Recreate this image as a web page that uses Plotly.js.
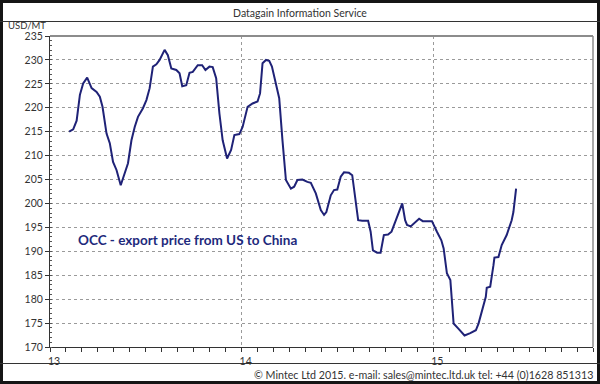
<!DOCTYPE html>
<html>
<head>
<meta charset="utf-8">
<script src="https://cdn.plot.ly/plotly-3.0.1.min.js"></script>
<style>
  html, body { margin: 0; padding: 0; background: #fff; }
  #wrap { position: relative; width: 600px; height: 384px; overflow: hidden; }
  #chart { position: absolute; left: 0; top: 0; width: 600px; height: 384px; }
  .ln { position: absolute; pointer-events: none; }
</style>
</head>
<body>
<div id="wrap">
  <div id="chart"></div>
  <div class="ln" style="left:0;top:0;width:600px;height:384px;border:3px solid #151515;box-sizing:border-box;"></div>
  <div class="ln" style="left:0;top:21px;width:600px;height:1px;background:#333;"></div>
  <div class="ln" style="left:0;top:363px;width:600px;height:1px;background:#333;"></div>
</div>
<script>
// Decimal years (13 = Jan 2013) and prices in USD/MT
const dates = [
  13.100, 13.121, 13.139, 13.156, 13.173, 13.194, 13.217, 13.243, 13.260, 13.274,
  13.295, 13.312, 13.329, 13.347, 13.369, 13.390, 13.407, 13.425, 13.442, 13.459,
  13.485, 13.503, 13.520, 13.537, 13.555, 13.572, 13.598, 13.615, 13.633, 13.659,
  13.676, 13.690, 13.711, 13.728, 13.745, 13.771, 13.794, 13.811, 13.832, 13.849,
  13.867, 13.884, 13.901, 13.924, 13.945, 13.962, 13.988, 14.005, 14.031, 14.057,
  14.083, 14.096, 14.109, 14.127, 14.144, 14.158, 14.179, 14.196, 14.213, 14.231,
  14.257, 14.274, 14.291, 14.317, 14.343, 14.361, 14.387, 14.413, 14.430, 14.442,
  14.465, 14.482, 14.499, 14.517, 14.534, 14.560, 14.577, 14.591, 14.608, 14.629,
  14.660, 14.673, 14.685, 14.707, 14.725, 14.742, 14.764, 14.782, 14.803, 14.824,
  14.838, 14.853, 14.863, 14.882, 14.907, 14.926, 14.945, 14.976, 14.993, 15.019,
  15.042, 15.054, 15.063, 15.071, 15.089, 15.106, 15.132, 15.163, 15.193, 15.222,
  15.236, 15.253, 15.274, 15.279, 15.297, 15.314, 15.319, 15.340, 15.357, 15.383,
  15.409, 15.418, 15.427, 15.432
];
const prices = [
  215.0, 215.5, 217.3, 222.7, 225.1, 226.3, 224.1, 223.3, 222.3, 220.2,
  214.6, 212.6, 208.7, 207.0, 203.8, 206.3, 208.4, 213.2, 216.0, 218.1,
  219.9, 221.6, 224.1, 228.6, 229.1, 230.0, 232.1, 231.0, 228.2, 227.9,
  227.2, 224.5, 224.7, 227.3, 227.5, 228.9, 228.9, 227.9, 228.6, 228.5,
  226.2, 218.8, 213.2, 209.4, 211.2, 214.3, 214.5, 216.0, 220.2, 220.9,
  221.3, 223.0, 229.3, 230.0, 229.8, 228.6, 225.1, 222.0, 213.2, 204.9,
  203.1, 203.5, 204.9, 205.0, 204.5, 204.3, 202.1, 198.6, 197.6, 198.2,
  201.7, 202.8, 202.9, 205.6, 206.5, 206.4, 205.9, 201.4, 196.5, 196.4,
  196.4, 194.1, 190.2, 189.7, 189.7, 193.4, 193.5, 194.1, 196.2, 198.6,
  200.0, 196.5, 195.5, 195.2, 196.2, 196.8, 196.3, 196.3, 196.3, 194.1,
  192.3, 190.6, 188.1, 185.4, 184.0, 174.9, 173.8, 172.4, 172.9, 173.5,
  174.9, 177.7, 180.5, 182.4, 182.6, 187.1, 188.7, 188.8, 191.3, 193.4,
  196.5, 198.2, 200.7, 203.1
];
const xTickVals = [13, 14, 15];
const xTickText = ['13', '14', '15'];
const seriesLabel = 'OCC - export price from US to China';
const chartTitle = 'Datagain Information Service';
const unitLabel = 'USD/MT';
const footerText = '\u00A9 Mintec Ltd 2015. e-mail: sales@mintec.ltd.uk tel: +44 (0)1628 851313';

const font = 'Lato, "Liberation Sans", Arial, sans-serif';

const trace = {
  x: dates, y: prices, type: 'scatter', mode: 'lines',
  line: { color: '#1f2277', width: 2 },
  name: seriesLabel, showlegend: false, hoverinfo: 'skip'
};

const layout = {
  width: 600, height: 384,
  margin: { l: 50, r: 7, t: 36, b: 37, pad: 0 },
  paper_bgcolor: '#fff', plot_bgcolor: '#fff',
  font: { family: font, size: 10, color: '#333' },
  title: {
    text: chartTitle, xref: 'container', yref: 'container',
    x: 0.5, xanchor: 'center', y: 1 - 13 / 384, yanchor: 'middle',
    font: { family: font, size: 10.5, color: '#333' }
  },
  xaxis: {
    range: [13, 15 + 10 / 12], autorange: false,
    tickmode: 'array', tickvals: xTickVals, ticktext: xTickText,
    ticks: 'outside', ticklen: 4, tickcolor: '#333', tickwidth: 1,
    ticklabelshift: 4,
    tickfont: { family: font, size: 10.5, color: '#333' },
    showline: true, linecolor: '#333', linewidth: 1,
    showgrid: true, gridcolor: '#9a9a9a', griddash: 'dot', gridwidth: 1,
    zeroline: false,
    minor: { tick0: 13, dtick: 1 / 12, ticks: 'outside', ticklen: 4, tickcolor: '#333', showgrid: false }
  },
  yaxis: {
    range: [170, 235], autorange: false,
    tick0: 170, dtick: 5,
    ticks: 'outside', ticklen: 4, tickcolor: '#333', tickwidth: 1,
    tickfont: { family: font, size: 10.5, color: '#333' },
    showline: true, linecolor: '#333', linewidth: 1,
    showgrid: true, gridcolor: '#9a9a9a', griddash: 'dot', gridwidth: 1,
    zeroline: false,
    minor: { dtick: 1, ticks: 'inside', ticklen: 2, tickcolor: '#555', showgrid: false }
  },
  shapes: [
    { type: 'line', xref: 'paper', yref: 'paper', x0: 0, x1: 1, y0: 1, y1: 1, line: { color: '#8c8c8c', width: 2 } },
    { type: 'line', xref: 'paper', yref: 'paper', x0: 1, x1: 1, y0: 0, y1: 1, line: { color: '#8c8c8c', width: 1.5 } }
  ],
  annotations: [
    { text: unitLabel, xref: 'paper', yref: 'paper', x: (6 - 50) / 543, y: (346.7 - 26) / 310.7,
      xanchor: 'left', yanchor: 'middle', showarrow: false, font: { family: font, size: 9.5, color: '#333' } },
    { text: '<b>' + seriesLabel + '</b>', xref: 'paper', yref: 'paper', x: (76 - 50) / 543, y: (346.7 - 240) / 310.7,
      xanchor: 'left', yanchor: 'middle', showarrow: false, font: { family: font, size: 13.5, color: '#1e2a7c' } },
    { text: footerText, xref: 'paper', yref: 'paper', x: (595 - 50) / 543, y: (346.7 - 374) / 310.7,
      xanchor: 'right', yanchor: 'middle', showarrow: false, font: { family: font, size: 10.7, color: '#333' } }
  ]
};

Plotly.newPlot('chart', [trace], layout, { staticPlot: true, displayModeBar: false });
</script>
</body>
</html>
